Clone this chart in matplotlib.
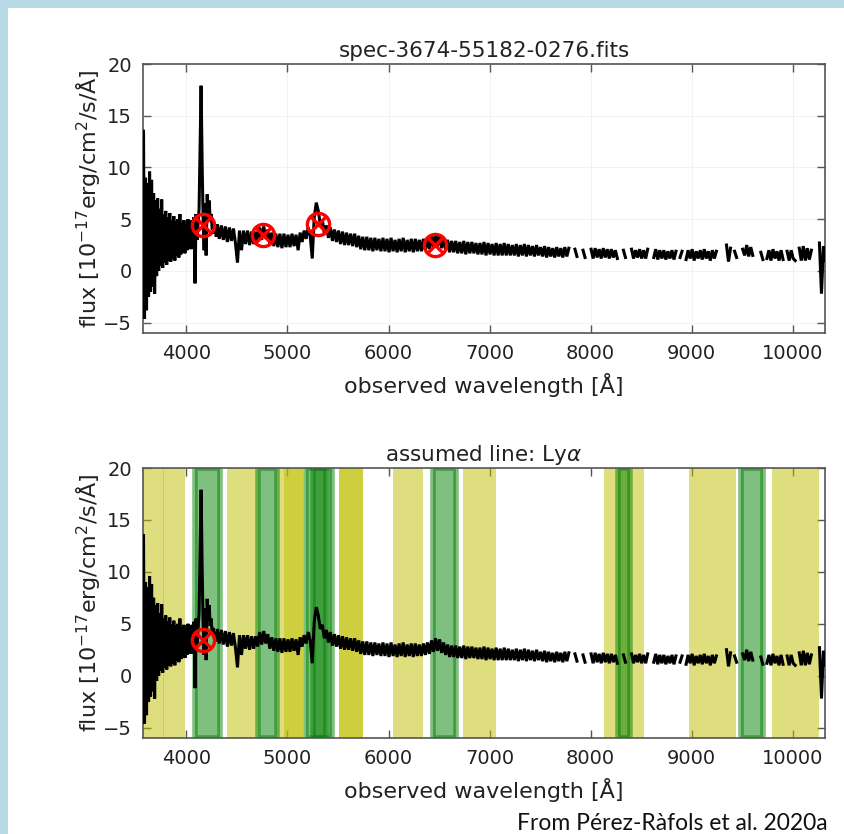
import numpy as np
import matplotlib
matplotlib.use("Agg")
import matplotlib.pyplot as plt
from matplotlib.patches import Rectangle

nan = np.nan

# ---------------- data ----------------
wave_blue = np.arange(3575, 4096, 10)
flux_blue = [13.5, -4.6, 9.0, -3.8, 8.5, -2.5, 9.6, -2.0, 8.8, -1.5,
             7.5, -2.2, 6.8, -0.5, 7.0, 0.0, 6.0, 0.5, 6.9, 0.3,
             5.5, 0.8, 5.8, 0.6, 5.2, 1.0, 5.6, 0.9, 4.9, 1.2,
             5.3, 1.0, 4.8, 1.5, 5.0, 1.3, 5.5, 1.6, 4.6, 1.8,
             4.9, 1.7, 4.5, 2.0, 5.0, 2.2, 4.4, 2.1, 4.9, 2.6,
             5.2, -1.2, 5.5]

wave_lya = np.arange(4105, 4296, 10)
flux_lya = [3.0, 4.5, 6.0, 12.0, 17.9, 10.5, 5.0, 2.0, 6.5, 1.5,
            7.4, 5.5, 6.8, 4.8, 5.5, 4.0, 4.6, 3.6, 4.2, 3.3]

wave_mid = np.arange(4305, 7496, 20)
flux_mid = [4.5, 3.1, 4.4, 3.0, 4.3, 2.8, 4.2, 2.9, 4.1, 2.7,
            0.8, 3.9, 2.0, 3.9, 2.6, 3.9, 2.5, 3.8, 2.6, 3.8,
            2.8, 4.2, 3.0, 4.3, 3.1, 4.0, 2.6, 3.7, 2.4, 3.6,
            2.3, 3.6, 2.2, 3.6, 2.3, 3.5, 2.3, 3.6, 2.4, 3.5,
            2.0, 3.7, 2.8, 3.9, 3.1, 4.2, 3.4, 1.2, 5.2, 6.6,
            5.8, 4.5, 4.9, 3.6, 4.4, 3.2, 4.2, 2.9, 4.0, 2.8,
            3.9, 2.6, 3.8, 2.5, 3.7, 2.5, 3.6, 2.4, 3.6, 2.3,
            3.4, 2.1, 3.3, 2.0, 3.3, 2.0, 3.2, 1.9, 3.2, 2.0,
            3.1, 1.9, 3.2, 1.9, 3.1, 1.8, 3.2, 1.9, 3.0, 1.8,
            3.1, 1.9, 3.2, 1.8, 3.0, 1.9, 3.1, 1.8, 3.1, 1.9,
            3.0, 1.9, 3.1, 2.0, 3.2, 2.1, 3.4, 2.3, 3.6, 2.4,
            3.5, 2.2, 3.2, 2.0, 3.0, 1.8, 2.9, 1.8, 2.9, 1.7,
            2.8, 1.7, 2.9, 1.6, 2.8, 1.7, 2.8, 1.7, 2.7, 1.6,
            2.7, 1.6, 2.8, 1.5, 2.7, 1.6, 2.6, 1.5, 2.7, 1.5,
            2.6, 1.5, 2.7, 1.5, 2.6, 1.5, 2.5, 1.5, 2.6, 1.4,
            2.5, 1.5, 2.6, 1.4, 2.5, 1.5, 2.4, 1.4, 2.5, 1.5]

wave_red = np.arange(7505, 10326, 20)
flux_red = [2.3, 1.4, 2.4, 1.3, 2.3, 1.4, 2.2, 1.3, 2.3, 1.4,
            2.2, 1.3, 2.3, 1.4, 2.2, nan, nan, 2.1, 1.4, nan,
            nan, 2.0, 1.3, nan, nan, 2.1, 1.2, 2.2, 1.3, 2.1,
            1.2, 2.2, 1.3, 2.1, 1.2, 2.1, 1.3, 2.0, 1.2, nan,
            nan, 2.0, 1.3, nan, nan, 2.1, 1.2, 2.0, 1.3, 2.1,
            1.2, 2.0, 1.2, 2.1, nan, nan, 1.3, 2.1, 1.1, 2.0,
            1.2, 2.0, 1.1, 1.9, 1.2, 2.0, 1.1, 1.9, nan, 1.3,
            1.9, nan, 1.1, 2.0, 1.2, 2.1, 1.0, 1.9, 1.2, 2.0,
            1.1, 2.1, 1.2, 1.9, 1.0, 2.0, 1.2, 1.9, nan, nan,
            nan, nan, 2.5, 0.9, 2.2, nan, 1.9, 1.3, nan, nan,
            2.1, 1.5, 2.5, 1.4, 2.3, 1.5, nan, nan, nan, 1.8,
            1.1, nan, 1.2, 2.0, 1.0, 2.1, 1.2, 1.9, 1.0, 2.0,
            1.1, nan, 1.9, 1.0, 2.0, 1.2, 1.0, nan, 2.2, 1.0,
            2.4, 1.0, 2.2, 1.1, 2.0, nan, nan, nan, 2.7, -2.2,
            2.4, 1.0]

line_wave_top = [4161, 4753, 5304, 6461]
line_flux_top = [4.4, 3.45, 4.5, 2.5]
line_wave_bottom = [4161]
line_flux_bottom = [3.4]

yellow_bands = [(3570, 3775), (3770, 3990), (4406, 4713), (4901, 5149),
                (4970, 5149), (5505, 5743), (5505, 5743), (6040, 6346),
                (6742, 7060), (8128, 8525), (8970, 9435), (9792, 10257)]
green_bands = [(4080, 4330), (4713, 4901), (5188, 5380), (5250, 5436),
               (6445, 6663), (8267, 8386), (9485, 9703)]

xticks = [4000, 5000, 6000, 7000, 8000, 9000, 10000]
yticks = [-5, 0, 5, 10, 15, 20]

title_top = 'spec-3674-55182-0276.fits'
title_bottom = r'assumed line: Ly$\alpha$'
xlabel = 'observed wavelength [Å]'
ylabel = r'flux [10$^{-17}$erg/cm$^2$/s/Å]'
credit = 'From Pérez-Ràfols et al. 2020a'

# ---------------- plot ----------------
wave = np.concatenate([wave_blue, wave_lya, wave_mid, wave_red])
flux = np.concatenate([flux_blue, flux_lya, flux_mid, flux_red])

W, H = 844, 834
fig = plt.figure(figsize=(W / 100, H / 100), dpi=100, facecolor='#B7DCE7')
fig.add_artist(Rectangle((8 / W, 0), 1, 1 - 8 / H, transform=fig.transFigure,
                         facecolor='white', edgecolor='none', zorder=-5))

TXT = '#222222'
SP = '#555555'

ax1 = fig.add_axes([143 / W, 1 - 333 / H, (825 - 143) / W, (333 - 64) / H])
ax2 = fig.add_axes([143 / W, 1 - 738 / H, (825 - 143) / W, (738 - 468) / H])


def style(ax):
    ax.set_xlim(3570, 10320)
    ax.set_ylim(-6, 20)
    ax.set_xticks(xticks)
    ax.set_yticks(yticks)
    ax.tick_params(direction='in', top=True, right=True, length=6, width=1,
                   color=SP, labelsize=14, labelcolor=TXT, pad=8)
    for s in ax.spines.values():
        s.set_color(SP)
        s.set_linewidth(1.2)
    ax.set_xlabel(xlabel, fontsize=16, color=TXT, labelpad=7)
    ax.set_ylabel(ylabel, fontsize=16, color=TXT, labelpad=0)
    ax.set_axisbelow(True)
    ax.grid(True, color='#f0f0f0', lw=0.6)
    ax.plot(wave, flux, color='k', lw=2.2, solid_joinstyle='miter', zorder=3)


style(ax1)
ax1.set_title(title_top, fontsize=15.5, color=TXT, pad=5)
ax1.plot(line_wave_top, line_flux_top, 'o', ms=16, mfc='none', mec='red', mew=2.4, zorder=4)
ax1.plot(line_wave_top, line_flux_top, 'x', ms=10, mec='red', mew=2.4, zorder=4)

for a, b in yellow_bands:
    ax2.axvspan(a, b, facecolor='y', alpha=0.5, lw=0, zorder=1)
for a, b in green_bands:
    ax2.axvspan(a, b, facecolor='g', edgecolor='g', alpha=0.5, lw=4, zorder=1)
style(ax2)
ax2.grid(False)
ax2.set_title(title_bottom, fontsize=15.5, color=TXT, pad=5)
ax2.plot(line_wave_bottom, line_flux_bottom, 'o', ms=16, mfc='none', mec='red', mew=2.4, zorder=4)
ax2.plot(line_wave_bottom, line_flux_bottom, 'x', ms=10, mec='red', mew=2.4, zorder=4)

fig.text(828 / W, 1 - 823 / H, credit, ha='right', va='center', fontsize=16.5,
         family='Lato', color='#111111')

fig.savefig('out.png', dpi=100, facecolor=fig.get_facecolor())
